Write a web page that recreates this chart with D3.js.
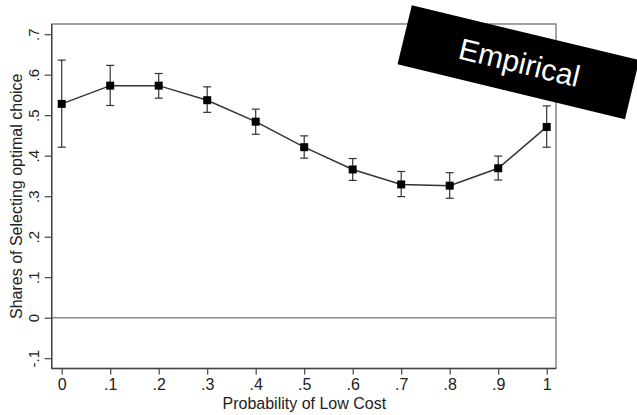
<!DOCTYPE html>
<html>
<head>
<meta charset="utf-8">
<script src="https://cdn.jsdelivr.net/npm/d3@7"></script>
<style>
  html, body { margin: 0; padding: 0; background: #fff; }
  svg { display: block; font-family: "Liberation Sans", Arial, sans-serif; }
</style>
</head>
<body>
<svg id="chart" width="637" height="415"></svg>
<script>
// Probability of low cost (x) and the share choosing the optimal option
const probLowCost = [0, 0.1, 0.2, 0.3, 0.4, 0.5, 0.6, 0.7, 0.8, 0.9, 1];
const shareOptimal = [0.528, 0.573, 0.573, 0.537, 0.484, 0.421, 0.366, 0.329, 0.326, 0.369, 0.471];
const ciLower = [0.421, 0.524, 0.542, 0.507, 0.453, 0.394, 0.339, 0.299, 0.295, 0.340, 0.421];
const ciUpper = [0.636, 0.623, 0.603, 0.570, 0.515, 0.449, 0.393, 0.361, 0.358, 0.399, 0.523];

const xTickValues = [0, 0.1, 0.2, 0.3, 0.4, 0.5, 0.6, 0.7, 0.8, 0.9, 1];
const xTickLabels = ["0", ".1", ".2", ".3", ".4", ".5", ".6", ".7", ".8", ".9", "1"];
const yTickValues = [-0.1, 0, 0.1, 0.2, 0.3, 0.4, 0.5, 0.6, 0.7];
const yTickLabels = ["-.1", "0", ".1", ".2", ".3", ".4", ".5", ".6", ".7"];

const svg = d3.select("#chart");

// plot region (frame) in pixels
const frame = { left: 51.7, right: 556, top: 24, bottom: 368.5 };

const x = d3.scaleLinear().domain([0, 1]).range([61.7, 546.7]);
const y = d3.scaleLinear().domain([0, 0.7]).range([317.7, 34.2]);

// zero reference line
svg.append("line")
  .attr("x1", frame.left).attr("x2", frame.right)
  .attr("y1", y(0)).attr("y2", y(0))
  .attr("stroke", "#8c8c8c").attr("stroke-width", 1.5);

// frame
svg.append("rect")
  .attr("x", frame.left).attr("y", frame.top)
  .attr("width", frame.right - frame.left).attr("height", frame.bottom - frame.top)
  .attr("fill", "none").attr("stroke", "#666").attr("stroke-width", 1.2);

// y axis
const yAxis = svg.append("g")
  .attr("transform", `translate(${frame.left},0)`)
  .call(d3.axisLeft(y).tickValues(yTickValues)
    .tickFormat((d, i) => yTickLabels[i]).tickSize(7).tickSizeOuter(0));
yAxis.select(".domain").remove();
yAxis.selectAll(".tick line").attr("stroke", "#444").attr("stroke-width", 1.2);
yAxis.selectAll(".tick text")
  .attr("x", null).attr("dy", null)
  .attr("transform", "translate(-12.5,0) rotate(-90)")
  .attr("text-anchor", "middle")
  .attr("font-size", 15).attr("fill", "#222");

// x axis
const xAxis = svg.append("g")
  .attr("transform", `translate(0,${frame.bottom})`)
  .call(d3.axisBottom(x).tickValues(xTickValues)
    .tickFormat((d, i) => xTickLabels[i]).tickSize(6).tickSizeOuter(0));
xAxis.select(".domain").remove();
xAxis.selectAll(".tick line").attr("stroke", "#444").attr("stroke-width", 1.2);
xAxis.selectAll(".tick text")
  .attr("y", 21.5).attr("dy", null)
  .attr("font-size", 16).attr("fill", "#222");

// left and bottom axis lines
svg.append("line")
  .attr("x1", frame.left).attr("x2", frame.left)
  .attr("y1", frame.top).attr("y2", frame.bottom)
  .attr("stroke", "#444").attr("stroke-width", 1.4);
svg.append("line")
  .attr("x1", frame.left).attr("x2", frame.right)
  .attr("y1", frame.bottom).attr("y2", frame.bottom)
  .attr("stroke", "#444").attr("stroke-width", 1.4);

// axis titles
svg.append("text")
  .attr("transform", `translate(22,${(frame.top + frame.bottom) / 2}) rotate(-90)`)
  .attr("text-anchor", "middle")
  .attr("font-size", 16).attr("fill", "#222")
  .text("Shares of Selecting optimal choice");
svg.append("text")
  .attr("x", (frame.left + frame.right) / 2 + 0.5).attr("y", 408.5)
  .attr("text-anchor", "middle")
  .attr("font-size", 16).attr("fill", "#222")
  .text("Probability of Low Cost");

// confidence intervals
const bars = svg.append("g").attr("stroke", "#333").attr("stroke-width", 1.2);
probLowCost.forEach((p, i) => {
  const cx = x(p);
  bars.append("line").attr("x1", cx).attr("x2", cx)
    .attr("y1", y(ciLower[i])).attr("y2", y(ciUpper[i]));
  bars.append("line").attr("x1", cx - 4).attr("x2", cx + 4)
    .attr("y1", y(ciLower[i])).attr("y2", y(ciLower[i]));
  bars.append("line").attr("x1", cx - 4).attr("x2", cx + 4)
    .attr("y1", y(ciUpper[i])).attr("y2", y(ciUpper[i]));
});

// connecting line
const line = d3.line().x((d, i) => x(probLowCost[i])).y(d => y(d));
svg.append("path")
  .datum(shareOptimal)
  .attr("d", line)
  .attr("fill", "none").attr("stroke", "#333").attr("stroke-width", 1.5);

// square markers
const ms = 8;
svg.append("g").selectAll("rect")
  .data(shareOptimal)
  .join("rect")
  .attr("x", (d, i) => x(probLowCost[i]) - ms / 2)
  .attr("y", d => y(d) - ms / 2)
  .attr("width", ms).attr("height", ms)
  .attr("fill", "#000");

// tilted label badge
const badge = svg.append("g").attr("transform", "translate(518.4,62.2) rotate(13.6)");
badge.append("rect")
  .attr("x", -117).attr("y", -30.4)
  .attr("width", 234).attr("height", 60.8)
  .attr("fill", "#000");
badge.append("text")
  .attr("x", 1).attr("y", 10.5)
  .attr("text-anchor", "middle")
  .attr("font-size", 30).attr("fill", "#fff")
  .text("Empirical");
</script>
</body>
</html>
